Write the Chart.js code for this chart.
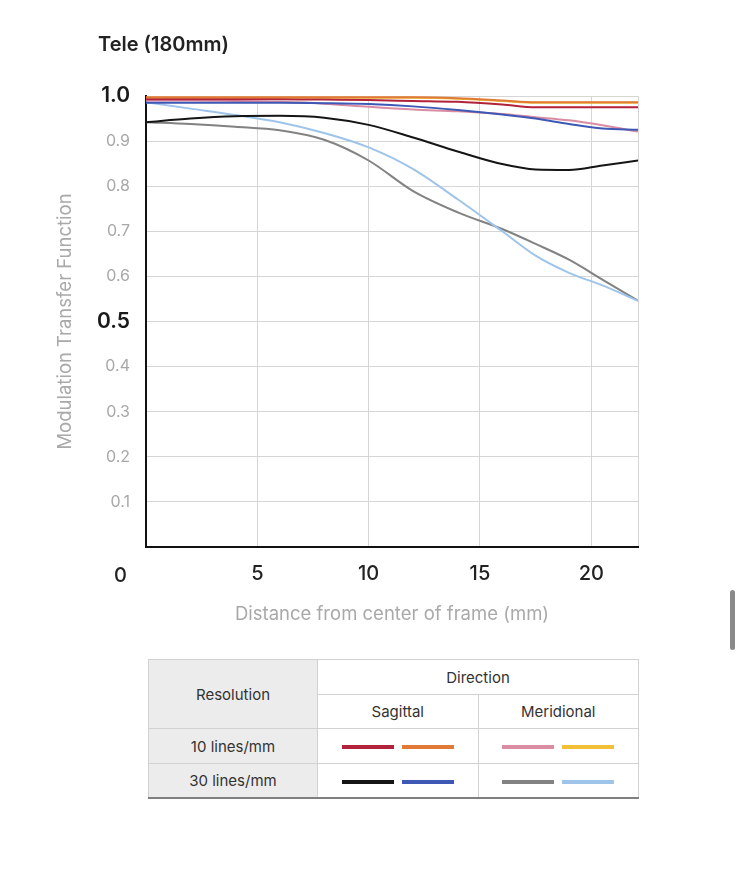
<!DOCTYPE html>
<html>
<head>
<meta charset="utf-8">
<script src="https://cdn.jsdelivr.net/npm/chart.js@4/dist/chart.umd.min.js"></script>
<style>
  body { margin: 0; background: #fff; font-family: "Inter", "Roboto", sans-serif; }
  #wrap { position: relative; width: 740px; height: 878px; overflow: hidden; }
  #mtf { position: absolute; left: 0; top: 0; }
  #title { position: absolute; left: 98px; top: 32px; font-size: 20px; font-weight: 600; color: #222; }
  #zero { position: absolute; left: 114px; top: 563px; font-size: 20px; font-weight: 500; color: #222; }
  #legend { position: absolute; left: 148px; top: 659px; width: 491px; border-collapse: collapse;
            font-size: 15px; color: #333; table-layout: fixed; }
  #legend th, #legend td { border: 1px solid #d2d2d2; font-weight: 400; text-align: center; padding: 0; }
  #legend tr:last-child td { border-bottom: 2px solid #808080; }
  #legend .res { background: #ececec; width: 168px; }
  .sw { display: inline-block; width: 52px; height: 4px; margin: 0 4px; vertical-align: middle; }
  #scroll { position: absolute; left: 730px; top: 590px; width: 5px; height: 60px; border-radius: 3px; background: #8a8a8a; }
</style>
</head>
<body>
<div id="wrap">
  <canvas id="mtf" width="740" height="626"></canvas>
  <div id="title">Tele (180mm)</div>
  <div id="zero">0</div>
  <table id="legend">
    <tr style="height:35px"><th rowspan="2" class="res">Resolution</th><th colspan="2">Direction</th></tr>
    <tr style="height:34px"><th>Sagittal</th><th>Meridional</th></tr>
    <tr style="height:35px"><td class="res">10 lines/mm</td><td id="c-s10"></td><td id="c-m10"></td></tr>
    <tr style="height:34px"><td class="res">30 lines/mm</td><td id="c-s30"></td><td id="c-m30"></td></tr>
  </table>
  <div id="scroll"></div>
</div>
<script>
// distance from center of frame (mm)
const distances = [0, 2, 4, 6, 8, 10, 12, 14, 16, 17.5, 19, 20.5, 22.1];

// 10 lines/mm
const sag10A = [0.993, 0.993, 0.993, 0.993, 0.992, 0.991, 0.989, 0.987, 0.981, 0.975, 0.975, 0.975, 0.975];
const sag10B = [0.997, 0.997, 0.997, 0.997, 0.997, 0.997, 0.997, 0.995, 0.990, 0.986, 0.986, 0.986, 0.986];
const mer10A = [0.990, 0.990, 0.989, 0.987, 0.983, 0.976, 0.970, 0.966, 0.960, 0.953, 0.946, 0.935, 0.921];
const mer10B = [0.996, 0.996, 0.996, 0.996, 0.996, 0.996, 0.996, 0.994, 0.989, 0.985, 0.985, 0.985, 0.985];

// 30 lines/mm
const sag30A = [0.942, 0.950, 0.955, 0.956, 0.952, 0.936, 0.908, 0.877, 0.849, 0.837, 0.836, 0.846, 0.857];
const sag30B = [0.985, 0.985, 0.985, 0.985, 0.984, 0.982, 0.977, 0.969, 0.959, 0.950, 0.938, 0.928, 0.925];
const mer30A = [0.942, 0.938, 0.932, 0.924, 0.903, 0.857, 0.789, 0.742, 0.705, 0.672, 0.637, 0.593, 0.546];
const mer30B = [0.986, 0.972, 0.958, 0.942, 0.918, 0.886, 0.838, 0.771, 0.700, 0.646, 0.608, 0.580, 0.546];

const xTicks = [0, 5, 10, 15, 20, 22.1];
const xTickLabels = ["", "5", "10", "15", "20", ""];
const yTicks = [0, 0.1, 0.2, 0.3, 0.4, 0.5, 0.6, 0.7, 0.8, 0.9, 1.0];
const yTickLabels = ["", "0.1", "0.2", "0.3", "0.4", "0.5", "0.6", "0.7", "0.8", "0.9", "1.0"];

// drawn top-first: index 0 is painted last
const series = [
  { values: sag10B, color: "#e07a36" },
  { values: sag10A, color: "#b2223a" },
  { values: sag30B, color: "#3d58b5" },
  { values: mer10A, color: "#d98ca2" },
  { values: mer10B, color: "#f1c036" },
  { values: sag30A, color: "#151515" },
  { values: mer30B, color: "#9ec4ea" },
  { values: mer30A, color: "#828282" }
];

// legend swatches, in the order shown in the table
const legendOrder = [[1, 0], [3, 4], [5, 2], [7, 6]];
const legendCells = ["c-s10", "c-m10", "c-s30", "c-m30"];
legendOrder.forEach((pair, i) => {
  const cell = document.getElementById(legendCells[i]);
  pair.forEach(idx => {
    const sw = document.createElement("span");
    sw.className = "sw";
    sw.style.background = series[idx].color;
    cell.appendChild(sw);
  });
});

const isBold = c => c.tick && (c.tick.value === 1 || c.tick.value === 0.5);

const ctx = document.getElementById("mtf").getContext("2d");

new Chart(ctx, {
  type: "line",
  data: {
    datasets: series.map(s => ({
      data: distances.map((d, i) => ({ x: d, y: s.values[i] })),
      borderColor: s.color,
      borderWidth: 2,
      pointRadius: 0,
      fill: false,
      cubicInterpolationMode: "monotone"
    }))
  },
  options: {
    responsive: false,
    animation: false,
    layout: { padding: { left: 54, top: 96, right: 102, bottom: 0 } },
    plugins: { legend: { display: false }, tooltip: { enabled: false } },
    scales: {
      x: {
        type: "linear",
        min: 0,
        max: 22.1,
        afterFit: s => { s.height = 79 },
        afterBuildTicks: s => { s.ticks = xTicks.map(v => ({ value: v })) },
        grid: {
          drawTicks: false,
          color: c => (c.tick && c.tick.value === 0) ? "rgba(0,0,0,0)" : "#d6d6d6",
          lineWidth: 1
        },
        border: { color: "#111", width: 2 },
        ticks: {
          autoSkip: false,
          maxRotation: 0,
          padding: 15,
          color: "#222",
          font: { family: "Inter", size: 20, weight: "500" },
          callback: v => xTickLabels[xTicks.indexOf(v)] || ""
        },
        title: {
          display: true,
          text: "Distance from center of frame (mm)",
          color: "#a9a9a9",
          padding: 0,
          font: { family: "Inter", size: 18.5 }
        }
      },
      y: {
        min: 0,
        max: 1.0,
        afterFit: s => { s.width = 92 },
        afterBuildTicks: s => { s.ticks = yTicks.map(v => ({ value: v })) },
        grid: {
          drawTicks: false,
          color: c => (c.tick && c.tick.value === 0) ? "rgba(0,0,0,0)" : "#d6d6d6",
          lineWidth: 1
        },
        border: { color: "#111", width: 2 },
        ticks: {
          padding: 16,
          color: c => isBold(c) ? "#1a1a1a" : "#a8a8a8",
          font: c => isBold(c)
            ? { family: "Inter", size: 21, weight: "600" }
            : { family: "Inter", size: 16, weight: "400" },
          callback: v => yTickLabels[yTicks.findIndex(t => Math.abs(t - v) < 1e-6)] || ""
        },
        title: {
          display: true,
          text: "Modulation Transfer Function",
          color: "#a9a9a9",
          padding: 0,
          font: { family: "Inter", size: 18.5 }
        }
      }
    }
  }
});
</script>
</body>
</html>
